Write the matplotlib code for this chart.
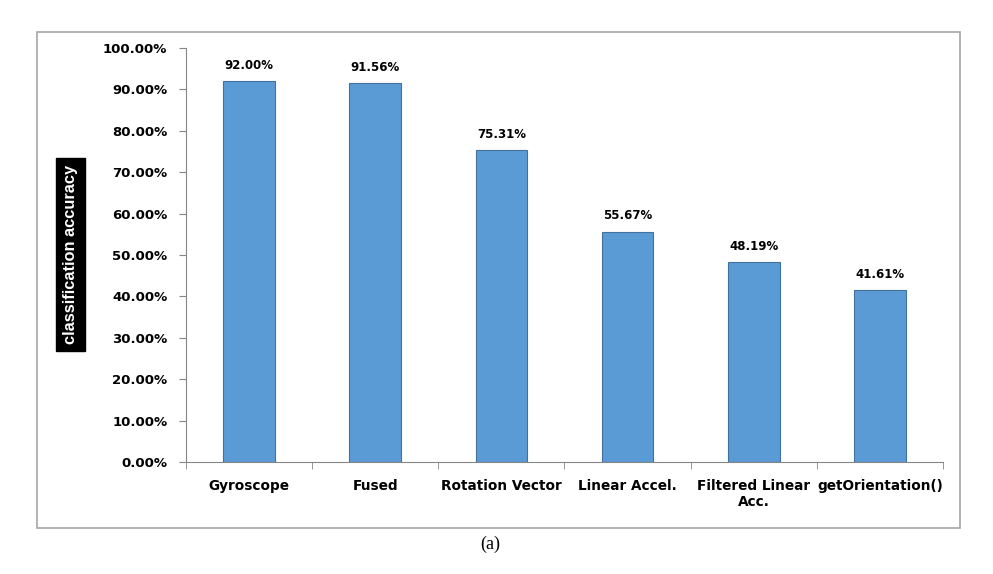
import matplotlib
matplotlib.use("Agg")
import matplotlib.pyplot as plt
from matplotlib.patches import Rectangle

categories = ['Gyroscope', 'Fused', 'Rotation Vector', 'Linear Accel.',
              'Filtered Linear\nAcc.', 'getOrientation()']
accuracy = [92.00, 91.56, 75.31, 55.67, 48.19, 41.61]
yticks = [0, 10, 20, 30, 40, 50, 60, 70, 80, 90, 100]

bar_color = '#5b9bd5'
edge_color = '#41719c'
axis_color = '#868686'

fig = plt.figure(figsize=(9.93, 5.74), dpi=100)

# outer chart frame
fig.patches.append(Rectangle((0.0373, 0.0801), 0.9295, 0.8641, transform=fig.transFigure,
                             fill=False, edgecolor='#a6a6a6', linewidth=1.2))

ax = fig.add_axes([0.1873, 0.1951, 0.7623, 0.7213])
x = list(range(len(categories)))
ax.bar(x, accuracy, width=0.41, color=bar_color, edgecolor=edge_color, linewidth=0.8)

for xi, v in zip(x, accuracy):
    ax.text(xi, v + 2.2, f'{v:.2f}%', ha='center', va='bottom', fontsize=8.5, fontweight='bold')

ax.set_xlim(-0.5, len(categories) - 0.5)
ax.set_ylim(0, 100)
ax.set_yticks(yticks)
ax.set_yticklabels([f'{t:.2f}%' for t in yticks], fontsize=9.5, fontweight='bold')
ax.set_xticks(x)
ax.set_xticklabels(categories, fontsize=9.8, fontweight='bold', va='top')
ax.tick_params(axis='x', length=0, pad=12)
ax.set_xticks([i - 0.5 for i in range(len(categories) + 1)], minor=True)
ax.tick_params(axis='x', which='minor', length=5, color=axis_color, direction='out')
ax.tick_params(axis='y', length=5, color=axis_color, pad=8.5)

for s in ['top', 'right']:
    ax.spines[s].set_visible(False)
for s in ['left', 'bottom']:
    ax.spines[s].set_color(axis_color)

fig.text(0.071, 0.556, 'classification accuracy', rotation=90, ha='center', va='center',
         color='white', fontsize=11.8, fontweight='bold',
         family=['Liberation Sans', 'DejaVu Sans'],
         bbox=dict(facecolor='black', edgecolor='black', pad=5))

fig.text(0.4935, 0.052, '(a)', ha='center', va='center', fontsize=13,
         family=['Liberation Serif', 'DejaVu Serif'])

fig.savefig('out.png', dpi=100)
